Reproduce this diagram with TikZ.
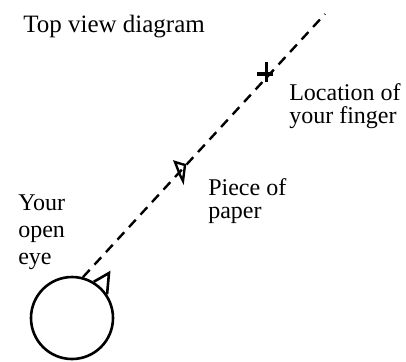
\documentclass[tikz,border=0pt]{standalone}
\usepackage{fontspec}
\setmainfont{Liberation Serif}
\usetikzlibrary{calc}
\tikzset{
  lbl/.style={font=\fontsize{12}{11.75}\selectfont, align=left, anchor=north west, inner sep=0pt},
  sightline/.style={line width=1.2pt, dash pattern=on 5pt off 3.5pt},
}

\begin{document}
\begin{tikzpicture}[x=0.5pt, y=-0.5pt, line width=1.3pt]
    \useasboundingbox (0,0) rectangle (406,361);
    \node[draw, circle, minimum size=41pt, inner sep=0pt] (eye) at (72,318) {};
    \coordinate (apex) at (109,273);
    \draw (eye.59) -- (apex) -- (eye.34);
    \coordinate (far) at (325,14);
    \coordinate (paper) at (181,171);
    \coordinate (finger) at (267,74);
    \draw[sightline] (eye.75) -- (far);
    \draw[line width=1.7pt] ($(finger)+(-10,0)$) -- ($(finger)+(6,0)$);
    \draw[line width=1.5pt] ($(finger)+(-1,-12)$) -- ($(finger)+(-1,8)$);
    \draw[line width=1.2pt] ($(paper)+(-6,-9)$) -- ($(paper)+(4,-6)$) -- ($(paper)+(2,10)$) -- ($(paper)+(-1,4)$) -- cycle;
    \node[lbl, font=\fontsize{12.5}{12}\selectfont] (title) at (22,14) {Top view diagram};
    \node[lbl] (fingertext) at (288,82) {Location of\\your finger};
    \node[lbl] (papertext) at (207,177) {Piece of\\paper};
    \node[lbl, font=\fontsize{12}{13.5}\selectfont] (eyetext) at (17,193) {Your\\open\\eye};
\end{tikzpicture}
\end{document}
